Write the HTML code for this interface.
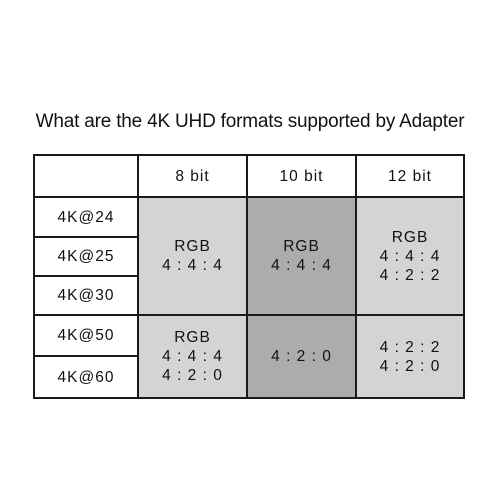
<!DOCTYPE html><html><head><style>
body{margin:0;width:500px;height:500px;background:#fff;position:relative;font-family:"Liberation Sans","DejaVu Sans",sans-serif;color:#111;overflow:hidden}
.t{position:absolute;left:0;width:500px;top:111px;text-align:center;font-size:19px;letter-spacing:-0.2px}
.c{position:absolute;box-sizing:border-box;display:flex;align-items:center;justify-content:center;text-align:center;font-size:15.5px;line-height:19px;letter-spacing:1px}
.l{position:absolute;background:#1a1a1a}
</style></head><body>
<div class="t">What are the 4K UHD formats supported by Adapter</div>
<div class="c" style="left:138px;top:197px;width:109px;height:118px;background:#d4d4d4">RGB<br>4 : 4 : 4</div>
<div class="c" style="left:247px;top:197px;width:109px;height:118px;background:#acacac">RGB<br>4 : 4 : 4</div>
<div class="c" style="left:356px;top:197px;width:108px;height:118px;background:#d4d4d4">RGB<br>4 : 4 : 4<br>4 : 2 : 2</div>
<div class="c" style="left:138px;top:315px;width:109px;height:83px;background:#d4d4d4">RGB<br>4 : 4 : 4<br>4 : 2 : 0</div>
<div class="c" style="left:247px;top:315px;width:109px;height:83px;background:#acacac">4 : 2 : 0</div>
<div class="c" style="left:356px;top:315px;width:108px;height:83px;background:#d4d4d4">4 : 2 : 2<br>4 : 2 : 0</div>
<div class="c" style="left:138px;top:155px;width:109px;height:42px">8 bit</div>
<div class="c" style="left:247px;top:155px;width:109px;height:42px">10 bit</div>
<div class="c" style="left:356px;top:155px;width:108px;height:42px">12 bit</div>
<div class="c" style="left:34px;top:197px;width:104px;height:40px">4K@24</div>
<div class="c" style="left:34px;top:237px;width:104px;height:39px">4K@25</div>
<div class="c" style="left:34px;top:276px;width:104px;height:39px">4K@30</div>
<div class="c" style="left:34px;top:315px;width:104px;height:41px">4K@50</div>
<div class="c" style="left:34px;top:356px;width:104px;height:42px">4K@60</div>
<div class="l" style="left:34px;top:154px;width:431px;height:2px"></div>
<div class="l" style="left:34px;top:196px;width:431px;height:2px"></div>
<div class="l" style="left:34px;top:314px;width:431px;height:2px"></div>
<div class="l" style="left:34px;top:397px;width:431px;height:2px"></div>
<div class="l" style="left:34px;top:236px;width:104px;height:2px"></div>
<div class="l" style="left:34px;top:275px;width:104px;height:2px"></div>
<div class="l" style="left:34px;top:355px;width:104px;height:2px"></div>
<div class="l" style="left:33px;top:154px;width:2px;height:245px"></div>
<div class="l" style="left:137px;top:154px;width:2px;height:245px"></div>
<div class="l" style="left:246px;top:154px;width:2px;height:245px"></div>
<div class="l" style="left:355px;top:154px;width:2px;height:245px"></div>
<div class="l" style="left:463px;top:154px;width:2px;height:245px"></div>
</body></html>
